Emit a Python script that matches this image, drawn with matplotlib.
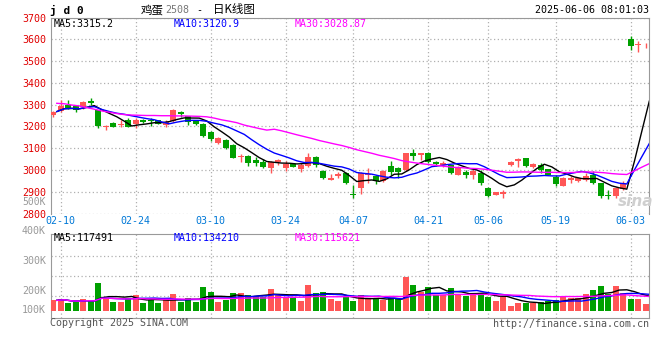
import matplotlib.pyplot as plt
import numpy as np
import pandas as pd

# trading days shown (jd0, 2025-02-07 .. 2025-06-05)
holidays = ['2025-04-04', '2025-05-01', '2025-05-02', '2025-05-05', '2025-06-02']
days = pd.bdate_range('2025-02-07', '2025-06-05')
days = days[~days.isin(pd.to_datetime(holidays))]
tick_labels = ['02-10', '02-24', '03-10', '03-24', '04-07', '04-21', '05-06', '05-19', '06-03']

opens = [3251, 3271, 3297, 3294, 3289, 3317, 3274, 3199, 3214, 3205,
         3228, 3210, 3231, 3230, 3228, 3207, 3225, 3266, 3248, 3225,
         3210, 3176, 3122, 3136, 3113, 3058, 3063, 3044, 3038, 3008,
         3037, 3008, 3026, 3003, 3018, 3060, 2995, 2956, 2971, 2985,
         2890, 2917, 2975, 2970, 2950, 3018, 3008, 3000, 3079, 3068,
         3076, 3038, 3023, 3023, 2977, 2992, 2977, 2985, 2917, 2886,
         2891, 3023, 3042, 3053, 3015, 3023, 3003, 2967, 2927, 2952,
         2947, 2955, 2977, 2939, 2886, 2879, 2914, 3600, 3573, 3568]
highs = [3272, 3323, 3320, 3300, 3318, 3332, 3277, 3207, 3220, 3228,
         3240, 3240, 3234, 3240, 3230, 3231, 3280, 3271, 3250, 3229,
         3215, 3180, 3150, 3140, 3118, 3072, 3068, 3058, 3048, 3040,
         3052, 3040, 3028, 3030, 3077, 3063, 3000, 2980, 2990, 2990,
         2932, 2990, 3008, 2975, 3000, 3042, 3015, 3080, 3098, 3080,
         3083, 3040, 3040, 3025, 3018, 3000, 3008, 3000, 2920, 2900,
         2909, 3042, 3053, 3055, 3033, 3030, 3006, 2977, 2968, 2970,
         2965, 2985, 2997, 2942, 2909, 2921, 2947, 3615, 3594, 3582]
lows = [3245, 3265, 3280, 3268, 3282, 3298, 3191, 3185, 3196, 3199,
        3195, 3194, 3215, 3202, 3210, 3197, 3222, 3243, 3205, 3205,
        3150, 3135, 3120, 3095, 3055, 3038, 3020, 3020, 3010, 2985,
        3025, 2995, 3012, 2990, 3012, 3015, 2958, 2952, 2965, 2935,
        2871, 2888, 2940, 2935, 2945, 2977, 2962, 2995, 3045, 3045,
        3030, 3020, 3015, 2982, 2975, 2962, 2959, 2932, 2878, 2885,
        2871, 3020, 3015, 3015, 3008, 2985, 2975, 2927, 2925, 2940,
        2945, 2947, 2936, 2871, 2867, 2871, 2909, 3552, 3542, 3559]
closes = [3268, 3294, 3286, 3275, 3314, 3308, 3200, 3202, 3197, 3213,
          3197, 3228, 3222, 3225, 3213, 3222, 3276, 3259, 3222, 3211,
          3156, 3141, 3145, 3102, 3057, 3063, 3030, 3030, 3014, 3038,
          3046, 3026, 3014, 3023, 3060, 3023, 2965, 2965, 2980, 2939,
          2886, 2985, 2980, 2947, 2997, 2992, 2992, 3076, 3065, 3079,
          3038, 3027, 3030, 2985, 3015, 2977, 2995, 2939, 2882, 2897,
          2901, 3038, 3048, 3018, 3027, 3000, 2977, 2936, 2965, 2962,
          2962, 2973, 2942, 2879, 2879, 2917, 2942, 3571, 3578, 3571]
# volume in thousands of lots
volume = [84, 92, 63, 73, 92, 76, 220, 105, 73, 73,
          102, 124, 63, 89, 63, 89, 131, 73, 100, 71,
          186, 150, 71, 84, 140, 142, 124, 111, 111, 173,
          131, 111, 111, 79, 202, 142, 150, 98, 79, 111,
          79, 124, 92, 92, 84, 105, 92, 265, 202, 150,
          186, 126, 128, 179, 131, 118, 131, 144, 111, 79,
          113, 39, 63, 60, 60, 73, 79, 86, 121, 100,
          100, 134, 166, 197, 131, 197, 144, 95, 95, 55]
volume = [v * 1000 for v in volume]
# MA30 before the window has 30 closes
ma30_head = [3306, 3304, 3298, 3294, 3286, 3279, 3271, 3265, 3259, 3254,
             3252, 3251, 3250, 3250, 3249, 3249, 3248, 3248, 3247, 3246,
             3244, 3238, 3230, 3224, 3217, 3206, 3198, 3190, 3183]

price_ticks = [3700, 3600, 3500, 3400, 3300, 3200, 3100, 3000, 2900, 2800]
ma_text = ['MA5:3315.2', 'MA10:3120.9', 'MA30:3028.87']
vol_ma_text = ['MA5:117491', 'MA10:134210', 'MA30:115621']
vol_labels = ['400K', '300K', '200K', '100K']

RED = '#ff5656'
GREEN = '#00a000'
MA_COLORS = ['black', '#0000ff', '#ff00ff']
GRID = '#b0b0b0'
FRAME = '#999999'
MONO = 'DejaVu Sans Mono'
CJK = ['Noto Sans CJK SC', 'DejaVu Sans']

W, H = 660, 360
def fx(px):
    return px / W
def fy(py):
    return 1 - py / H

o = np.array(opens); c = np.array(closes)
hi = np.array(highs); lo = np.array(lows)
vol = np.array(volume, dtype=float)
x = np.arange(len(c))
xm = x + 0.5
col = np.where(c >= o, RED, GREEN)

cs = pd.Series(c, dtype=float)
ma5 = cs.rolling(5, min_periods=1).mean()
ma10 = cs.rolling(10, min_periods=1).mean()
ma30 = cs.rolling(30).mean()
ma30.iloc[:len(ma30_head)] = ma30_head

vs = pd.Series(vol)
vma = [vs.rolling(n, min_periods=1).mean() for n in (5, 10, 30)]

tick_idx = [int(np.where(days.strftime('%m-%d') == t)[0][0]) for t in tick_labels]

fig = plt.figure(figsize=(6.6, 3.6), dpi=100)

# price panel
ax = fig.add_axes([fx(50.7), fy(213.5), fx(649.3) - fx(50.7), fy(17.5) - fy(213.5)])
ax.vlines(x, lo, hi, colors=col, lw=1, zorder=3)
ax.bar(x, np.maximum(np.abs(c - o), 3), bottom=np.minimum(o, c), width=0.8,
       color=col, zorder=4)
for m, cc in zip([ma5, ma10, ma30], MA_COLORS):
    ax.plot(xm, m, color=cc, lw=1, zorder=5)
ax.set_xlim(-0.31, 79.5)
ax.set_ylim(2800, 3700)
ax.set_yticks(price_ticks)
ax.set_xticks(tick_idx)
ax.set_xticklabels(tick_labels)
ax.grid(True, color=GRID, linestyle=(0, (1, 2)), lw=0.9)
ax.tick_params(length=0)
ax.tick_params(axis='y', pad=3.5, labelcolor='#e00000', labelsize=7.2)
ax.tick_params(axis='x', pad=1.5, labelcolor='#0078d7', labelsize=7.2)
for lab in ax.get_xticklabels() + ax.get_yticklabels():
    lab.set_family(MONO)
for s in ['left', 'top', 'right']:
    ax.spines[s].set_color(FRAME)
ax.spines['bottom'].set_visible(False)

for t, cc, px in zip(ma_text, MA_COLORS, [54, 174, 295]):
    fig.text(fx(px), fy(24), t, color=cc, family=MONO, size=7.2, va='center')

# volume panel
ax2 = fig.add_axes([fx(50.7), fy(318), fx(649.3) - fx(50.7), fy(234) - fy(318)])
ax2.bar(x, vol, width=0.8, color=col, zorder=3)
for m, cc in zip(vma, MA_COLORS):
    ax2.plot(xm, m, color=cc, lw=1, zorder=4)
ax2.set_xlim(-0.31, 79.5)
ax2.set_ylim(-55000, 606000)
ax2.set_xticks(tick_idx)
ax2.set_xticklabels([])
ax2.set_yticks([])
ax2.grid(True, axis='x', color=GRID, linestyle=(0, (1, 2)), lw=0.9)
ylo, yhi = ax2.get_ylim()
for f in (0.262, 0.5, 0.738):
    ax2.axhline(ylo + f * (yhi - ylo), color=GRID, linestyle=(0, (1, 2)), lw=0.9, zorder=1)
ax2.tick_params(length=0)
for s in ax2.spines.values():
    s.set_color(FRAME)

for t, cc, px in zip(vol_ma_text, MA_COLORS, [54, 174, 295]):
    fig.text(fx(px), fy(238), t, color=cc, family=MONO, size=7.2, va='center')
for t, py in zip(vol_labels, [231, 261, 291, 310]):
    fig.text(fx(46), fy(py), t, color='#999999', family=MONO, size=7.2,
             ha='right', va='center')
fig.text(fx(46), fy(202), '500K', color='#999999', family=MONO, size=7,
         ha='right', va='center')

# header
fig.text(fx(50), fy(10), 'j d 0', family=MONO, weight='bold', size=8, va='center')
fig.text(fx(141), fy(10), '鸡蛋', family=CJK, size=8.3, va='center')
fig.text(fx(165), fy(10), '2508', family=MONO, color='#777777', size=7.2, va='center')
fig.text(fx(196), fy(10), '-', family=MONO, size=7.2, va='center')
fig.text(fx(213), fy(10), '日K线图', family=CJK, size=8.3, va='center')
fig.text(fx(649), fy(10), '2025-06-06 08:01:03', family=MONO, size=7.2,
         ha='right', va='center')

# footer + watermark
fig.text(fx(50), fy(323), 'Copyright 2025 SINA.COM', family=MONO, size=7.2,
         color='#555555', va='center')
fig.text(fx(649), fy(324), 'http://finance.sina.com.cn', family=MONO, size=7.2,
         color='#555555', ha='right', va='center')
fig.text(fx(618), fy(201), 'sina', family='DejaVu Sans', style='italic',
         weight='bold', size=11, color='#cfcfcf', va='center')

fig.savefig('out.png', dpi=100)
plt.close(fig)
